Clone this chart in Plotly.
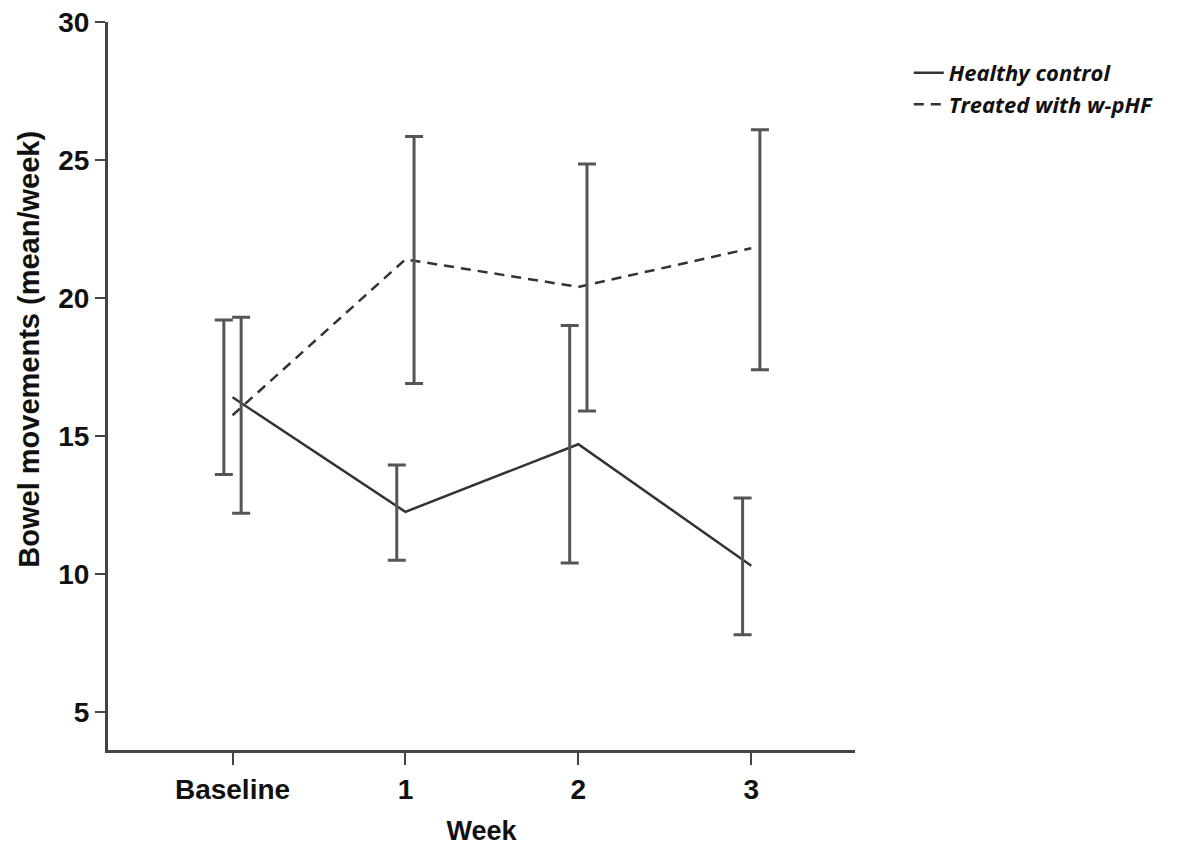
import plotly.graph_objects as go

weeks = ["Baseline", "1", "2", "3"]
week_pos = [0, 1, 2, 3]
y_ticks = [5, 10, 15, 20, 25, 30]

healthy_mean = [16.4, 12.25, 14.7, 10.3]
healthy_low = [13.6, 10.5, 10.4, 7.8]
healthy_high = [19.2, 13.95, 19.0, 12.75]

treated_mean = [15.75, 21.4, 20.4, 21.8]
treated_low = [12.2, 16.9, 15.9, 17.4]
treated_high = [19.3, 25.85, 24.85, 26.1]

OFFSET = 0.05
line_col = "#333333"
bar_col = "#555555"

fig = go.Figure()

fig.add_trace(go.Scatter(
    x=week_pos, y=healthy_mean, mode="lines", name="<i>Healthy control</i>",
    line=dict(color=line_col, width=2.5)))
fig.add_trace(go.Scatter(
    x=week_pos, y=treated_mean, mode="lines", name="<i>Treated with w-pHF</i>",
    line=dict(color=line_col, width=2.5, dash="10px,7px")))

def err_trace(means, lows, highs, off):
    return go.Scatter(
        x=[p + off for p in week_pos], y=means, mode="markers",
        marker=dict(size=1, color="rgba(0,0,0,0)"), showlegend=False,
        hoverinfo="skip",
        error_y=dict(type="data", symmetric=False,
                     array=[h - m for h, m in zip(highs, means)],
                     arrayminus=[m - l for m, l in zip(means, lows)],
                     color=bar_col, thickness=3, width=9))

fig.add_trace(err_trace(healthy_mean, healthy_low, healthy_high, -OFFSET))
fig.add_trace(err_trace(treated_mean, treated_low, treated_high, OFFSET))

def bold(size):
    return dict(family="Liberation Sans", size=size, color="#111111", weight="bold")

fig.update_layout(
    width=1174, height=841,
    margin=dict(l=100, r=327, t=14, b=99, autoexpand=False),
    plot_bgcolor="white", paper_bgcolor="white",
    xaxis=dict(range=[-0.72, 3.6], tickvals=week_pos, ticktext=weeks,
               showgrid=False, zeroline=False, showline=True, automargin=False,
               linecolor="#444444", linewidth=3, ticks="outside",
               ticklen=12, tickwidth=2, tickcolor="#444444",
               tickfont=bold(28), ticklabeloverflow="allow",
               title=dict(text="Week", font=bold(27), standoff=18)),
    yaxis=dict(range=[3.62, 30], tickvals=y_ticks,
               showgrid=False, zeroline=False, showline=True, automargin=False,
               linecolor="#444444", linewidth=3, ticks="outside",
               ticklen=10, tickwidth=2, tickcolor="#444444",
               tickfont=bold(28), ticklabeloverflow="allow"),
    legend=dict(x=1.072, y=0.959, xanchor="left", yanchor="top",
                font=dict(family="Open Sans", size=22, color="#111111", weight="bold"),
                itemwidth=30, tracegroupgap=0, bgcolor="rgba(0,0,0,0)"),
)
fig.add_annotation(
    text="Bowel movements (mean/week)", textangle=-90,
    xref="paper", yref="paper", x=-0.106, y=0.551,
    xanchor="center", yanchor="middle", showarrow=False,
    font=bold(29))

fig.write_html("out.html")
